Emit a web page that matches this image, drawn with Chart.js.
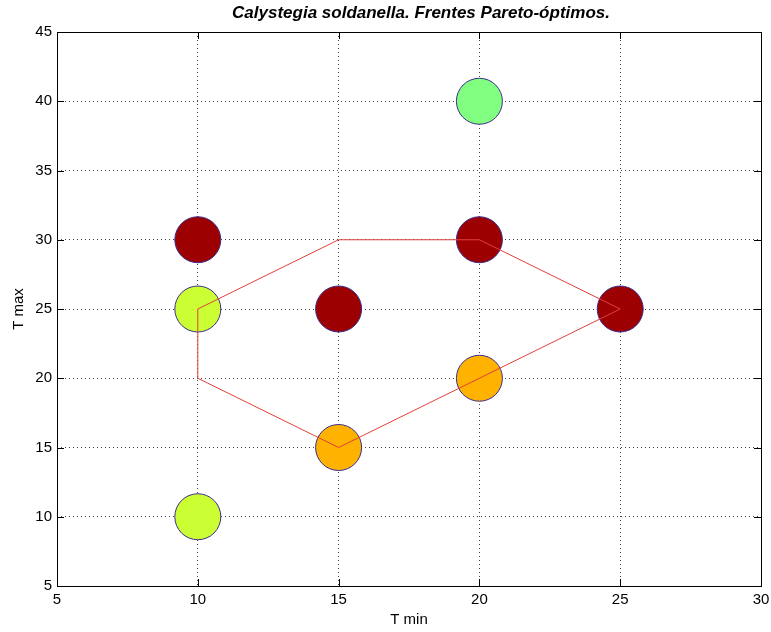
<!DOCTYPE html>
<html>
<head>
<meta charset="utf-8">
<script src="https://cdn.jsdelivr.net/npm/chart.js@4"></script>
<style>
  html, body { margin: 0; padding: 0; background: #fff; overflow: hidden; }
  #wrap { width: 771px; height: 632px; }
  canvas { display: block; }
</style>
</head>
<body>
<div id="wrap"><canvas id="paretoChart" width="771" height="632" style="width:771px;height:632px"></canvas></div>
<script>
// puntos evaluados (T min, T max) y su color
const tMin = [10, 10, 10, 15, 15, 20, 20, 20, 25];
const tMax = [30, 25, 10, 25, 15, 40, 30, 20, 25];
const pointColors = ['#9c0000', '#ccff33', '#ccff33', '#9c0000', '#ffb300', '#80ff80', '#9c0000', '#ffb300', '#9c0000'];

// frente Pareto (poligono)
const frontX = [10, 15, 20, 25, 20, 15, 10, 10];
const frontY = [25, 30, 30, 25, 20, 15, 20, 25];

const xTicks = [5, 10, 15, 20, 25, 30];
const yTicks = [5, 10, 15, 20, 25, 30, 35, 40, 45];

const titleText = 'Calystegia soldanella. Frentes Pareto-óptimos.';

const pts = tMin.map((x, i) => ({ x: x, y: tMax[i] }));
const front = frontX.map((x, i) => ({ x: x, y: frontY[i] }));

const FONT = 'Arial, "Liberation Sans", sans-serif';

const edgeGrid = (ctx) => {
    const v = ctx.tick ? ctx.tick.value : null;
    const s = ctx.scale;
    return (v === s.min || v === s.max) ? 'rgba(0,0,0,0)' : '#444';
};

const frame = {
    id: 'frame',
    afterDraw(chart) {
        const { ctx, chartArea: a, scales } = chart;
        ctx.save();
        ctx.strokeStyle = '#000';
        ctx.lineWidth = 1;
        ctx.strokeRect(Math.round(a.left) + 0.5, Math.round(a.top) + 0.5,
            Math.round(a.right - a.left), Math.round(a.bottom - a.top));
        // marcas de los ejes hacia dentro
        ctx.beginPath();
        xTicks.forEach(v => {
            const px = Math.round(scales.x.getPixelForValue(v)) + 0.5;
            ctx.moveTo(px, a.bottom); ctx.lineTo(px, a.bottom - 7);
            ctx.moveTo(px, a.top); ctx.lineTo(px, a.top + 7);
        });
        yTicks.forEach(v => {
            const py = Math.round(scales.y.getPixelForValue(v)) + 0.5;
            ctx.moveTo(a.left, py); ctx.lineTo(a.left + 7, py);
            ctx.moveTo(a.right, py); ctx.lineTo(a.right - 7, py);
        });
        ctx.stroke();
        // titulo
        ctx.fillStyle = '#000';
        ctx.font = 'italic bold 17px ' + FONT;
        ctx.textAlign = 'center';
        ctx.textBaseline = 'middle';
        ctx.fillText(titleText, 421, 13);
        ctx.restore();
    }
};

new Chart(document.getElementById('paretoChart'), {
    type: 'scatter',
    data: {
        datasets: [
            {
                type: 'line',
                label: 'Frente',
                data: front,
                borderColor: '#e0403a',
                borderWidth: 1,
                pointRadius: 0,
                fill: false,
                tension: 0,
                order: 0
            },
            {
                label: 'Puntos',
                data: pts,
                backgroundColor: pointColors,
                borderColor: '#3c2c8c',
                borderWidth: 1,
                pointRadius: 23,
                pointHoverRadius: 23,
                order: 1
            }
        ]
    },
    options: {
        responsive: false,
        animation: false,
        events: [],
        layout: { autoPadding: false, padding: { top: 32, right: 10, left: 0, bottom: 0 } },
        plugins: {
            legend: { display: false },
            tooltip: { enabled: false },
            title: { display: false }
        },
        scales: {
            x: {
                type: 'linear',
                min: 5, max: 30,
                afterBuildTicks: (s) => { s.ticks = xTicks.map(v => ({ value: v })); },
                afterFit: (s) => { s.height = 46; s.paddingLeft = 0; s.paddingRight = 0; },
                ticks: { color: '#000', font: { family: FONT, size: 15 }, padding: 5, maxRotation: 0 },
                grid: { color: edgeGrid, drawTicks: false },
                border: { display: false, dash: [1, 3] },
                title: { display: true, text: 'T min', color: '#000', font: { family: FONT, size: 15 }, padding: { top: 0, bottom: 3 } }
            },
            y: {
                type: 'linear',
                min: 5, max: 45,
                afterBuildTicks: (s) => { s.ticks = yTicks.map(v => ({ value: v })); },
                afterFit: (s) => { s.width = 57; s.paddingTop = 0; s.paddingBottom = 0; },
                ticks: { color: '#000', font: { family: FONT, size: 15 }, padding: 5 },
                grid: { color: edgeGrid, drawTicks: false },
                border: { display: false, dash: [1, 3] },
                title: { display: true, text: 'T max', color: '#000', font: { family: FONT, size: 15 }, padding: { top: 10, bottom: 0 } }
            }
        }
    },
    plugins: [frame]
});
</script>
</body>
</html>
